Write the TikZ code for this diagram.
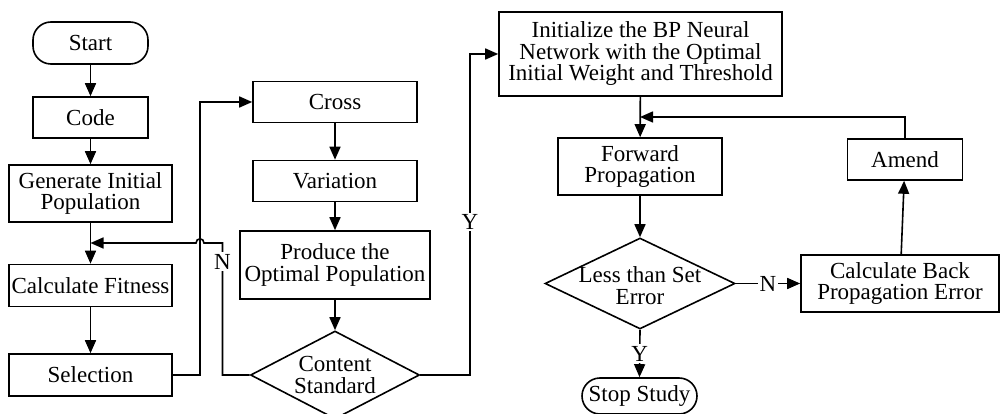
\documentclass[tikz,border=0pt]{standalone}
\usepackage{fontspec}
\setmainfont{Liberation Serif}
\usetikzlibrary{shapes.geometric,arrows.meta}
\begin{document}
\begin{tikzpicture}[x=1pt,y=-1pt,
  font=\fontsize{23}{21.5}\selectfont,
  every node/.style={inner sep=0pt},
  every path/.style={line width=1.6pt},
  box/.style={draw, rectangle, align=center},
  term/.style={draw, rectangle, rounded corners=18pt, align=center},
  dia/.style={draw, diamond},
  lbl/.style={fill=white, inner sep=1.5pt},
  arr/.style={-{Triangle[length=13pt,width=11pt]}}]
\useasboundingbox (0,0) rectangle (1001,414);
% left column
\node[term, minimum width=115, minimum height=42] (start) at (90.5,43) {Start};
\node[box, minimum width=115, minimum height=41] (code) at (90.5,117.5) {Code};
\node[box, minimum width=163, minimum height=57] (gen) at (90.5,193.5) {Generate Initial\\Population};
\node[box, minimum width=163, minimum height=42] (fit) at (90.5,285.5) {Calculate Fitness};
\node[box, minimum width=163, minimum height=42] (sel) at (90.5,375) {Selection};
% middle column
\node[box, minimum width=164, minimum height=41] (cross) at (335,102) {Cross};
\node[box, minimum width=164, minimum height=41] (var) at (335,181) {Variation};
\node[box, minimum width=190, minimum height=68] (prod) at (335,265) {Produce the\\Optimal Population};
\node[dia, minimum width=169, minimum height=88] (cs) at (335,375) {};
\node[align=center] at (cs.center) {Content\\Standard};
% right part
\node[box, minimum width=283, minimum height=84] (init) at (640.5,54) {Initialize the BP Neural\\Network with the Optimal\\Initial Weight and Threshold};
\node[box, minimum width=164, minimum height=57] (fwd) at (640,166.5) {Forward\\Propagation};
\node[dia, minimum width=190, minimum height=91] (less) at (640,283.5) {};
\node[align=center] at ([yshift=-2]less.center) {Less than Set\\Error};
\node[box, minimum width=115, minimum height=41] (amend) at (905,159.5) {Amend};
\node[box, minimum width=198, minimum height=57] (back) at (900,283.5) {Calculate Back\\Propagation Error};
\node[term, minimum width=115, minimum height=36] (stop) at (639.5,396) {Stop Study};
\coordinate (j) at (90.5,243);
\coordinate (k) at (640,117);
% connectors
\draw[arr] (start) -- (code);
\draw[arr] (code) -- (gen);
\draw[arr] (gen) -- (fit);
\draw[arr] (fit) -- (sel);
\draw[arr] (sel.east) -- (200,375) -- (200,102) -- (cross.west);
\draw[arr] (cross) -- (var);
\draw[arr] (var) -- (prod);
\draw[arr] (prod) -- (cs.north);
\draw[arr] (cs.west) -- (222.5,375) -- node[lbl, pos=0.86] {N} (222.5,243) -- (204,243)
  .. controls (204,237.5) and (196,237.5) .. (196,243) -- (j);
\draw[arr] (cs.east) -- (470,375) -- node[lbl, pos=0.477] {Y} (470,54) -- (init.west);
\draw[arr] (init) -- (fwd);
\draw[arr] (fwd) -- (less.north);
\draw[arr] (less.east) -- node[lbl] {N} (back.west);
\draw[arr] (back) -- (amend);
\draw[arr] (amend.north) |- (k);
\draw[arr] (less.south) -- node[lbl] {Y} (stop.north);
\end{tikzpicture}
\end{document}
